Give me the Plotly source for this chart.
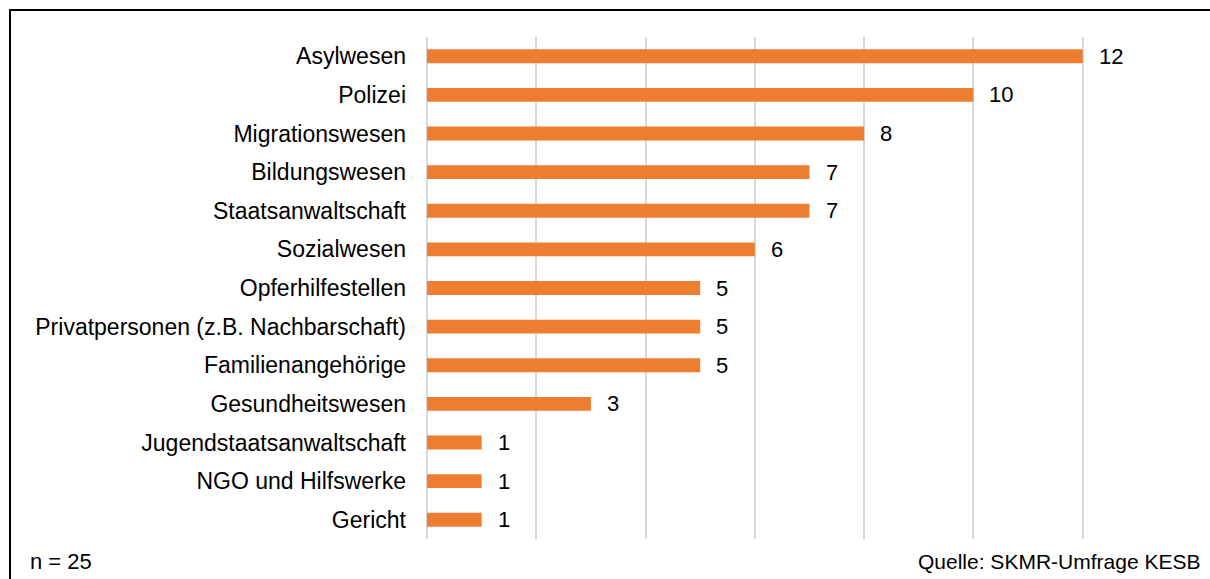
import plotly.graph_objects as go

categories = ["Asylwesen", "Polizei", "Migrationswesen", "Bildungswesen", "Staatsanwaltschaft",
              "Sozialwesen", "Opferhilfestellen", "Privatpersonen (z.B. Nachbarschaft)",
              "Familienangehörige", "Gesundheitswesen", "Jugendstaatsanwaltschaft",
              "NGO und Hilfswerke", "Gericht"]
values = [12, 10, 8, 7, 7, 6, 5, 5, 5, 3, 1, 1, 1]
x_ticks = [0, 2, 4, 6, 8, 10, 12, 14]

W, H = 1210, 579
L, R, T, B = 427, 18, 37, 40
pw, ph = W - L - R, H - T - B

FONT = "Liberation Sans, Arial, sans-serif"

fig = go.Figure(go.Bar(
    y=categories, x=values, orientation="h",
    marker=dict(color="#ED7D31", line=dict(width=0)),
    width=0.36, hoverinfo="skip"
))

for c, v in zip(categories, values):
    fig.add_annotation(x=v, y=c, text=str(v), showarrow=False, xanchor="left",
                       xshift=14, font=dict(family=FONT, size=22, color="#000000"))

fig.add_shape(type="rect", xref="paper", yref="paper",
              x0=(10 - L) / pw, x1=(W + 10 - L) / pw,
              y0=-(H + 10 - (H - B)) / ph, y1=1 + (T - 10) / ph,
              line=dict(color="#000000", width=2), layer="above")

fig.add_annotation(xref="paper", yref="paper", x=(28 - L) / pw, y=-(561 - (H - B)) / ph,
                   text="n = 25", showarrow=False, xanchor="left", yanchor="middle",
                   font=dict(family=FONT, size=22, color="#000000"))
fig.add_annotation(xref="paper", yref="paper", x=(1202 - L) / pw, y=-(561 - (H - B)) / ph,
                   text="Quelle: SKMR-Umfrage KESB", showarrow=False, xanchor="right", yanchor="middle",
                   font=dict(family=FONT, size=21, color="#000000"))

fig.update_layout(
    width=W, height=H,
    margin=dict(l=L, r=R, t=T, b=B, pad=0),
    paper_bgcolor="white", plot_bgcolor="white",
    showlegend=False,
    xaxis=dict(range=[0, 14], tickvals=x_ticks, showticklabels=False, showgrid=True,
               gridcolor="#D9D9D9", gridwidth=1.5, zeroline=True, zerolinecolor="#D9D9D9",
               zerolinewidth=1.5, showline=False, fixedrange=True),
    yaxis=dict(range=[12.5, -0.5], autorange=False, showgrid=False, showline=False, ticks="",
               ticklabelstandoff=20,
               tickfont=dict(family=FONT, size=23, color="#000000"), fixedrange=True),
)

fig.write_html("out.html", config={"displayModeBar": False},
               post_script="document.body.style.margin='0';document.body.style.overflow='hidden';")
